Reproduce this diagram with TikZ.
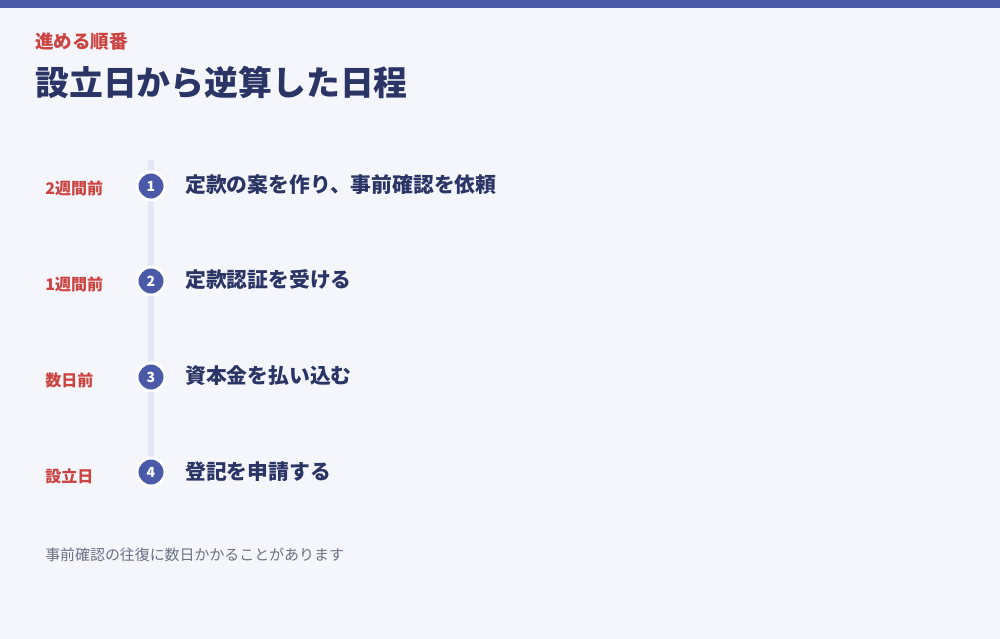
\documentclass[tikz,border=0pt]{standalone}
\usepackage{fontspec}
\setmainfont{Noto Sans CJK JP}
\definecolor{bg}{HTML}{F5F6FB}
\definecolor{accent}{HTML}{4A5AA8}
\definecolor{navy}{HTML}{2A3566}
\definecolor{redtxt}{HTML}{CC4441}
\definecolor{rail}{HTML}{E3E7F6}
\definecolor{note}{HTML}{6B7185}
\tikzset{
  subtitle/.style={anchor=west,inner sep=0pt,text=redtxt,font=\fontsize{13.9pt}{16pt}\selectfont\bfseries},
  title/.style={anchor=west,inner sep=0pt,text=navy,font=\fontsize{25.4pt}{30pt}\selectfont\bfseries},
  when/.style={anchor=west,inner sep=0pt,text=redtxt,font=\fontsize{12pt}{14pt}\selectfont\bfseries},
  stepnum/.style={circle,fill=accent,draw=white,line width=2.2pt,minimum size=21pt,inner sep=0pt,text=white,font=\fontsize{10.5pt}{12pt}\selectfont\bfseries},
  steptext/.style={anchor=west,inner sep=0pt,text=navy,font=\fontsize{15.6pt}{18pt}\selectfont\bfseries},
  notetext/.style={anchor=west,inner sep=0pt,text=note,font=\fontsize{11.2pt}{13pt}\selectfont},
}
\begin{document}
\begin{tikzpicture}[x=0.75pt,y=-0.75pt]
\useasboundingbox (0,0) rectangle (1000,639);
\fill[bg] (0,0) rectangle (1000,639);
\fill[accent] (0,0) rectangle (1000,8);
\node[subtitle] (sub) at (35,42) {進める順番};
\node[title] (ttl) at (35,83) {設立日から逆算した日程};
\coordinate (railtop) at (151,160);
\coordinate (railbot) at (151,486);
\draw[rail,line width=4.5pt] (railtop) -- (railbot);
\node[stepnum] (n1) at (151,186) {1};
\node[stepnum] (n2) at (151,281) {2};
\node[stepnum] (n3) at (151,377) {3};
\node[stepnum] (n4) at (151,472) {4};
\node[when] (w1) at (45,188) {2週間前};
\node[when] (w2) at (45,284) {1週間前};
\node[when] (w3) at (45,380) {数日前};
\node[when] (w4) at (45,476) {設立日};
\node[steptext] (s1) at (185,185) {定款の案を作り、事前確認を依頼};
\node[steptext] (s2) at (185,280) {定款認証を受ける};
\node[steptext] (s3) at (185,376) {資本金を払い込む};
\node[steptext] (s4) at (185,472) {登記を申請する};
\node[notetext] (nt) at (45,555) {事前確認の往復に数日かかることがあります};
\end{tikzpicture}
\end{document}
